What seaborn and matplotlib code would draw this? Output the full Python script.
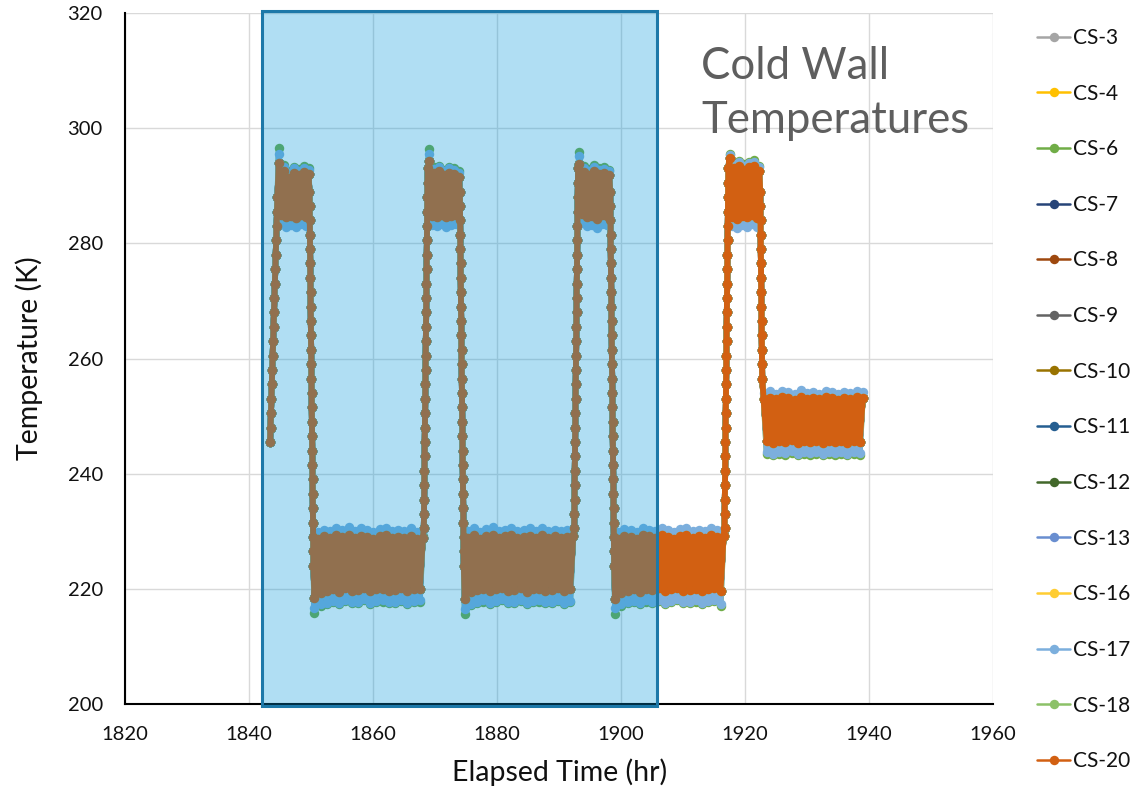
import pandas as pd
import seaborn as sns
import matplotlib.pyplot as plt
from matplotlib.patches import Rectangle

# ---------------------------------------------------------------- sensors
sensors = ["CS-3", "CS-4", "CS-6", "CS-7", "CS-8", "CS-9", "CS-10", "CS-11",
           "CS-12", "CS-13", "CS-16", "CS-17", "CS-18", "CS-20"]
colors = ["#A5A5A5", "#FFC000", "#70AD47", "#264478", "#9E480E", "#636363",
          "#997300", "#255E91", "#43682B", "#698ED0", "#FFCD33", "#7CAFDD",
          "#8CC168", "#D26012"]

# ---------------------------------------------------------------- sample clocks (hours after segment start)
startup_elapsed = [0.00, 0.07, 0.14, 0.21, 0.28, 0.35, 0.42, 0.49, 0.56,
                   0.63, 0.70, 0.77, 0.84, 0.91, 0.98, 1.05, 1.12, 1.19]
ramp_elapsed = [0.000, 0.025, 0.050, 0.075, 0.100, 0.125, 0.150, 0.175, 0.200,
                0.225, 0.250, 0.275, 0.300, 0.325, 0.350, 0.375, 0.400, 0.425,
                0.450, 0.475, 0.500, 0.525, 0.550, 0.575, 0.600, 0.625, 0.650]
hot_elapsed = [0.0, 0.4, 0.8, 1.2, 1.6, 2.0, 2.4, 2.8, 3.2, 3.6, 4.0, 4.4, 4.8]
cold_elapsed = [0.0, 0.5, 1.0, 1.5, 2.0, 2.5, 3.0, 3.5, 4.0, 4.5, 5.0, 5.5,
                6.0, 6.5, 7.0, 7.5, 8.0, 8.5, 9.0, 9.5, 10.0, 10.5, 11.0, 11.5,
                12.0, 12.5, 13.0, 13.5, 14.0, 14.5, 15.0, 15.5, 16.0, 16.5,
                17.0, 17.5]
final_elapsed = [0.0, 0.5, 1.0, 1.5, 2.0, 2.5, 3.0, 3.5, 4.0, 4.5, 5.0, 5.5,
                 6.0, 6.5, 7.0, 7.5, 8.0, 8.5, 9.0, 9.5, 10.0, 10.5, 11.0,
                 11.5, 12.0, 12.5, 13.0, 13.5, 14.0, 14.5, 15.0, 15.5, 16.0]

# ---------------------------------------------------------------- segment start times (elapsed test hours)
startup_start = 1843.4
hot_starts = [1844.8, 1869.05, 1893.3, 1917.5]
cooldown_starts = [1849.75, 1874.0, 1898.25, 1922.45]
cold_starts = [1850.55, 1874.8, 1899.05]
heatup_starts = [1868.2, 1892.45, 1916.7]
final_start = 1923.0

# ---------------------------------------------------------------- ramps (K), common to all sensors
startup_k = [245.5, 248.0, 250.5, 253.0, 255.5, 258.0, 260.5, 263.0, 265.5,
             268.0, 270.5, 273.0, 275.5, 278.0, 280.5, 283.0, 285.5, 288.0]
heatup_k = [230.5, 233.0, 235.5, 238.0, 240.5, 243.0, 245.5, 248.0, 250.5,
            253.0, 255.5, 258.0, 260.5, 263.0, 265.5, 268.0, 270.5, 273.0,
            275.5, 278.0, 280.5, 283.0, 285.5, 288.0, 290.5, 293.0]
cooldown_k = [289.0, 286.5, 284.0, 281.5, 279.0, 276.5, 274.0, 271.5, 269.0,
              266.5, 264.0, 261.5, 259.0, 256.5, 254.0, 251.5, 249.0, 246.5,
              244.0, 241.5, 239.0, 236.5, 234.0, 231.5, 229.0, 226.5, 224.0]
last_cooldown_k = [289.0, 286.5, 284.0, 281.5, 279.0, 276.5, 274.0, 271.5,
                   269.0, 266.5, 264.0, 261.5, 259.0, 256.5]

# ---------------------------------------------------------------- hot plateaus (K)
hot1_core = [294.0, 285.0, 292.6, 284.5, 291.4, 284.8, 292.3, 284.4, 291.9, 284.9, 292.4, 284.6, 292.0]
hot2_core = [294.3, 284.8, 292.2, 284.6, 292.5, 285.0, 291.8, 284.5, 292.3, 284.7, 292.0, 284.9, 291.6]
hot3_core = [293.8, 285.1, 292.4, 284.6, 291.9, 284.8, 292.6, 284.3, 292.0, 285.0, 292.2, 284.7, 291.8]
hot4_core = [294.8, 284.6, 293.0, 284.3, 293.4, 284.8, 292.8, 284.5, 293.2, 284.9, 293.5, 284.4, 292.6]

hot1_cs17 = [295.6, 283.4, 293.3, 282.9, 292.2, 283.2, 293.0, 282.8, 292.6, 283.3, 293.1, 283.0, 292.7]
hot2_cs17 = [295.5, 283.2, 292.9, 283.0, 293.2, 283.4, 292.5, 282.9, 293.0, 283.1, 292.7, 283.3, 292.3]
hot3_cs17 = [295.2, 283.5, 293.1, 283.0, 292.6, 283.2, 293.3, 282.7, 292.7, 283.4, 292.9, 283.1, 292.5]
hot4_cs17 = [295.3, 283.0, 293.8, 282.7, 294.1, 283.2, 293.5, 282.9, 293.9, 283.3, 294.2, 282.8, 293.3]

hot1_cs6 = [296.5, 284.7, 293.6, 284.3, 292.5, 284.6, 293.3, 284.2, 292.9, 284.7, 293.4, 284.4, 293.0]
hot2_cs6 = [296.3, 284.6, 293.2, 284.4, 293.5, 284.8, 292.8, 284.3, 293.3, 284.5, 293.0, 284.7, 292.6]
hot3_cs6 = [295.8, 284.9, 293.4, 284.4, 292.9, 284.6, 293.6, 284.1, 293.0, 284.8, 293.2, 284.5, 292.8]
hot4_cs6 = [295.6, 284.4, 294.0, 284.1, 294.3, 284.6, 293.7, 284.3, 294.1, 284.7, 294.4, 284.2, 293.5]

# ---------------------------------------------------------------- cold plateaus (K)
cold1_core = [218.4, 228.6, 219.2, 229.1, 219.6, 228.8, 219.9, 229.3, 219.5, 229.0, 220.1, 229.4,
              219.7, 228.9, 219.8, 229.2, 220.2, 229.0, 219.6, 228.7, 219.9, 229.1, 220.0, 229.3,
              219.7, 228.8, 219.8, 229.0, 220.1, 228.9, 219.6, 229.2, 219.9, 228.7, 220.0, 228.9]
cold2_core = [218.2, 228.9, 219.4, 229.3, 219.8, 228.7, 220.0, 229.2, 219.6, 229.4, 219.9, 228.8,
              220.2, 229.1, 219.7, 229.3, 219.8, 228.9, 220.1, 229.0, 219.5, 229.2, 219.9, 228.8,
              220.0, 229.3, 219.7, 228.9, 219.8, 229.1, 220.1, 228.8, 219.6, 229.0, 219.9, 229.2]
cold3_core = [218.3, 228.7, 219.3, 229.2, 219.7, 229.0, 219.9, 228.6, 219.5, 229.3, 220.0, 229.1,
              219.8, 228.8, 220.1, 229.4, 219.6, 229.0, 219.9, 228.7, 220.2, 229.2, 219.7, 229.3,
              219.8, 228.9, 220.0, 229.1, 219.6, 228.8, 219.9, 229.3, 220.1, 229.0, 219.7, 229.2]

cold1_cs17 = [216.7, 229.8, 217.3, 230.3, 217.6, 230.0, 217.9, 230.6, 217.5, 230.2, 218.1, 230.7,
              217.7, 230.1, 217.8, 230.5, 218.2, 230.2, 217.6, 229.9, 217.9, 230.4, 218.0, 230.6,
              217.7, 230.0, 217.8, 230.3, 218.1, 230.1, 217.6, 230.5, 217.9, 229.9, 218.0, 230.2]
cold2_cs17 = [216.5, 230.1, 217.4, 230.6, 217.8, 229.9, 218.0, 230.4, 217.6, 230.7, 217.9, 230.0,
              218.2, 230.3, 217.7, 230.6, 217.8, 230.1, 218.1, 230.2, 217.5, 230.5, 217.9, 230.0,
              218.0, 230.6, 217.7, 230.1, 217.8, 230.3, 218.1, 230.0, 217.6, 230.2, 217.9, 230.4]
cold3_cs17 = [216.6, 229.9, 217.3, 230.4, 217.7, 230.2, 217.9, 229.8, 217.5, 230.5, 218.0, 230.3,
              217.8, 230.0, 218.1, 230.6, 217.6, 230.2, 217.9, 229.9, 218.2, 230.4, 217.7, 230.5,
              217.8, 230.1, 218.0, 230.3, 217.6, 230.0, 217.9, 230.5, 218.1, 230.2, 217.3, 230.4]

cold1_cs6 = [215.8, 228.8, 217.1, 229.3, 217.4, 229.0, 217.7, 229.5, 217.3, 229.2, 217.9, 229.6,
             217.5, 229.1, 217.6, 229.4, 218.0, 229.2, 217.4, 228.9, 217.7, 229.3, 217.8, 229.5,
             217.5, 229.0, 217.6, 229.2, 217.9, 229.1, 217.4, 229.4, 217.7, 228.9, 217.8, 229.1]
cold2_cs6 = [215.6, 229.1, 217.2, 229.5, 217.6, 228.9, 217.8, 229.4, 217.4, 229.6, 217.7, 229.0,
             218.0, 229.3, 217.5, 229.5, 217.6, 229.1, 217.9, 229.2, 217.3, 229.4, 217.7, 229.0,
             217.8, 229.5, 217.5, 229.1, 217.6, 229.3, 217.9, 229.0, 217.4, 229.2, 217.7, 229.4]
cold3_cs6 = [215.7, 228.9, 217.1, 229.4, 217.5, 229.2, 217.7, 228.8, 217.3, 229.5, 217.8, 229.3,
             217.6, 229.0, 217.9, 229.6, 217.4, 229.2, 217.7, 228.9, 218.0, 229.4, 217.5, 229.5,
             217.6, 229.1, 217.8, 229.3, 217.4, 229.0, 217.7, 229.5, 217.9, 229.2, 217.1, 229.4]

# ---------------------------------------------------------------- final hold (K)
final_core = [253.0, 245.6, 253.2, 245.4, 252.9, 245.7, 253.3, 245.5, 253.1, 245.8, 252.8,
              245.4, 253.4, 245.6, 253.0, 245.5, 253.2, 245.7, 252.9, 245.4, 253.3, 245.6,
              253.1, 245.5, 252.8, 245.7, 253.2, 245.4, 253.0, 245.6, 253.3, 245.5, 253.1]
final_cs17 = [254.0, 243.7, 254.3, 243.5, 253.9, 243.8, 254.4, 243.6, 254.1, 243.9, 253.8,
              243.5, 254.5, 243.7, 254.0, 243.6, 254.2, 243.8, 253.9, 243.5, 254.3, 243.7,
              254.1, 243.6, 253.8, 243.8, 254.2, 243.5, 254.0, 243.7, 254.3, 243.6, 254.1]
final_cs6 = [253.1, 243.4, 253.3, 243.2, 253.0, 243.5, 253.4, 243.3, 253.2, 243.6, 252.9,
             243.2, 253.5, 243.4, 253.1, 243.3, 253.3, 243.5, 253.0, 243.2, 253.4, 243.4,
             253.2, 243.3, 252.9, 243.5, 253.3, 243.2, 253.1, 243.4, 253.4, 243.3, 253.2]

# Shaded test window (hours)
window_start, window_end = 1842.1, 1905.8


def segment(start, elapsed, temps):
    return [start + e for e in elapsed[:len(temps)]], list(temps)


def build_trace(hots, colds, final):
    pieces = [segment(startup_start, startup_elapsed, startup_k)]
    for i in range(4):
        pieces.append(segment(hot_starts[i], hot_elapsed, hots[i]))
        ramp = cooldown_k if i < 3 else last_cooldown_k
        pieces.append(segment(cooldown_starts[i], ramp_elapsed, ramp))
        if i < 3:
            pieces.append(segment(cold_starts[i], cold_elapsed, colds[i]))
            pieces.append(segment(heatup_starts[i], ramp_elapsed, heatup_k))
    pieces.append(segment(final_start, final_elapsed, final))
    hours, temps = [], []
    for h, t in pieces:
        hours += h
        temps += t
    return hours, temps


traces = {
    "core": build_trace([hot1_core, hot2_core, hot3_core, hot4_core],
                        [cold1_core, cold2_core, cold3_core], final_core),
    "cs17": build_trace([hot1_cs17, hot2_cs17, hot3_cs17, hot4_cs17],
                        [cold1_cs17, cold2_cs17, cold3_cs17], final_cs17),
    "cs6": build_trace([hot1_cs6, hot2_cs6, hot3_cs6, hot4_cs6],
                       [cold1_cs6, cold2_cs6, cold3_cs6], final_cs6),
}
sensor_trace = {s: "core" for s in sensors}
sensor_trace["CS-17"] = "cs17"
sensor_trace["CS-6"] = "cs6"

frames = []
for s in sensors:
    h, t = traces[sensor_trace[s]]
    frames.append(pd.DataFrame({"hours": h, "temp": t, "sensor": s}))
df = pd.concat(frames, ignore_index=True)

# ---------------------------------------------------------------- figure
sns.set_style("white")
plt.rcParams["font.family"] = ["Lato", "DejaVu Sans"]

fig = plt.figure(figsize=(11.32, 7.89), dpi=100)
ax = fig.add_axes([125 / 1132, 1 - 704 / 789, 868 / 1132, 691 / 789])

sns.lineplot(data=df, x="hours", y="temp", hue="sensor", hue_order=sensors,
             palette=colors, estimator=None, sort=False, legend=False,
             marker="o", markersize=6.8, markeredgewidth=0, linewidth=4.2,
             ax=ax)

ax.set_xlim(1820, 1960)
ax.set_ylim(200, 320)
ax.set_xticks(range(1820, 1961, 20))
ax.set_yticks(range(200, 321, 20))
ax.grid(True, color="#D9D9D9", linewidth=1.0)
ax.set_axisbelow(True)
for side in ("top", "right"):
    ax.spines[side].set_visible(False)
for side in ("left", "bottom"):
    ax.spines[side].set_color("black")
    ax.spines[side].set_linewidth(1.5)
ax.tick_params(length=0, pad=16, labelsize=14.5, labelcolor="#111111")

ax.set_xlabel("Elapsed Time (hr)", fontsize=20.5, color="#111111")
ax.set_ylabel("Temperature (K)", fontsize=20.5, color="#111111")
ax.xaxis.set_label_coords(0.501, -0.079)
ax.yaxis.set_label_coords(-0.094, 0.5)

# Translucent test-window highlight drawn over the data
ax.add_patch(Rectangle((window_start, 199.7), window_end - window_start, 120.6,
                       facecolor=(0.0, 0.59, 0.85), alpha=0.31, edgecolor="none",
                       zorder=5, clip_on=False))
ax.add_patch(Rectangle((window_start, 199.7), window_end - window_start, 120.6,
                       facecolor="none", edgecolor="#1D78A8", linewidth=2.2,
                       zorder=6, clip_on=False))

fig.text(701 / 1132, 1 - 46 / 789, "Cold Wall\nTemperatures", fontsize=31.5,
         color="#5E5E5E", ha="left", va="top", linespacing=1.38)

leg = ax.legend(ax.lines[:len(sensors)], sensors, loc="upper left",
                bbox_to_anchor=(1037 / 1132, 1 - 28 / 789),
                bbox_transform=fig.transFigure, frameon=False, fontsize=15,
                labelspacing=1.71, handlelength=1.6, handletextpad=0.15,
                borderpad=0, borderaxespad=0)
for line in leg.get_lines():
    line.set_linewidth(1.8)
for txt in leg.get_texts():
    txt.set_color("#111111")

fig.savefig("out.png", dpi=100)
